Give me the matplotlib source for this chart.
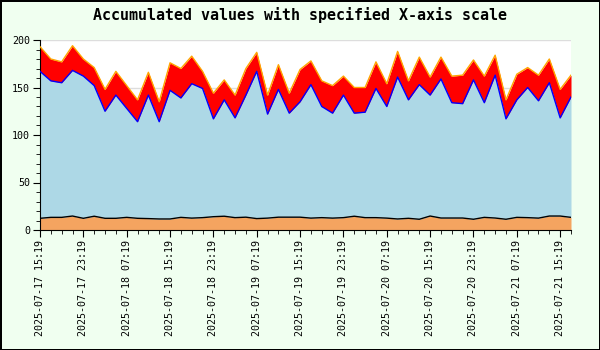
import numpy as np
import matplotlib
matplotlib.use("Agg")
import matplotlib.pyplot as plt
import matplotlib.dates as mdates
from matplotlib.ticker import MultipleLocator, FixedLocator

# 50 samples, one every 2 hours from 2025-07-17 15:19
START = np.datetime64("2025-07-17T15:19")
STEP_H = 2
N = 50

# per-series values (stacked bottom -> top)
base_vals = [12.3, 13.3, 13.3, 14.7, 12.3, 14.5, 12.3, 12.3, 13.3, 12.3,
             12.0, 11.6, 11.6, 13.3, 12.5, 13.0, 14.0, 14.5, 13.0, 13.5,
             12.0, 12.5, 13.5, 13.5, 13.5, 12.5, 13.0, 12.5, 13.0, 14.5,
             13.0, 13.0, 12.5, 11.6, 12.3, 11.3, 14.7, 12.6, 12.6, 12.6,
             11.3, 13.3, 12.6, 11.3, 13.3, 13.0, 12.5, 14.7, 14.7, 13.3]
mid_vals = [154.7, 143.7, 141.7, 153.3, 149.7, 137.5, 112.7, 129.7, 114.7, 101.7,
            130.0, 102.4, 135.4, 125.7, 141.5, 136.0, 103.0, 122.5, 105.0, 128.5,
            155.0, 109.5, 134.5, 109.5, 121.5, 140.5, 117.0, 110.5, 129.0, 108.5,
            111.0, 136.0, 117.5, 149.4, 124.7, 141.7, 127.3, 146.4, 121.4, 120.4,
            146.7, 120.7, 150.4, 105.7, 123.7, 137.0, 123.5, 140.3, 103.3, 126.7]
top_vals = [26, 23, 22, 26, 18, 19, 23, 25, 24, 23,
            24, 21, 29, 31, 29, 18, 27, 21, 24, 28,
            20, 20, 26, 21, 34, 25, 27, 29, 20, 27,
            26, 28, 24, 27, 20, 29, 19, 23, 28, 30,
            21, 28, 21, 20, 27, 21, 27, 25, 30, 23]

times = START + np.arange(N) * np.timedelta64(STEP_H, "h")
x = mdates.date2num(times.astype("datetime64[s]").astype(object))

fig = plt.figure(figsize=(6, 3.5), dpi=100, facecolor="#F0FFF0",
                 edgecolor="black", linewidth=1.0)
ax = fig.add_axes([40 / 600, 120 / 350, 531 / 600, 190 / 350])
ax.set_facecolor("white")

y1 = np.array(base_vals)
y2 = y1 + np.array(mid_vals)
y3 = y2 + np.array(top_vals)

ax.fill_between(x, 0, y1, color="#F4A460", lw=0, zorder=2)
ax.fill_between(x, y1, y2, color="#ADD8E6", lw=0, zorder=2)
ax.fill_between(x, y2, y3, color="#FF0000", lw=0, zorder=2)
ax.plot(x, y1, color="black", lw=1, zorder=3)
ax.plot(x, y2, color="blue", lw=1, zorder=3)
ax.plot(x, y3, color="orange", lw=1, zorder=3)

ax.set_xlim(x[0], x[-1])
ax.set_ylim(0, 200)
ax.yaxis.set_major_locator(MultipleLocator(50))
ax.yaxis.set_minor_locator(MultipleLocator(10))
ax.grid(axis="y", color="#DDDDDD", lw=1, zorder=0)
ax.set_axisbelow(True)

ax.xaxis.set_major_locator(FixedLocator(x[::4]))
ax.xaxis.set_minor_locator(FixedLocator(x))
ax.xaxis.set_major_formatter(mdates.DateFormatter("%Y-%m-%d %H:%M"))

for lab in ax.get_xticklabels():
    lab.set_rotation(90)
    lab.set_ha("center")
    lab.set_va("top")
ax.tick_params(axis="x", which="major", length=5, labelsize=7.2, pad=2)
ax.tick_params(axis="x", which="minor", length=3)
ax.tick_params(axis="y", which="major", length=5, labelsize=7.2, pad=2)
ax.tick_params(axis="y", which="minor", length=3)
for lab in ax.get_xticklabels() + ax.get_yticklabels():
    lab.set_family("DejaVu Sans Mono")

for s in ("top", "right"):
    ax.spines[s].set_visible(False)

fig.text(0.5, 1 - 15 / 350, "Accumulated values with specified X-axis scale",
         ha="center", va="center", fontsize=10.8, fontweight="bold",
         family="DejaVu Sans Mono")

fig.savefig("out.png", dpi=100, facecolor=fig.get_facecolor(), edgecolor="black")
